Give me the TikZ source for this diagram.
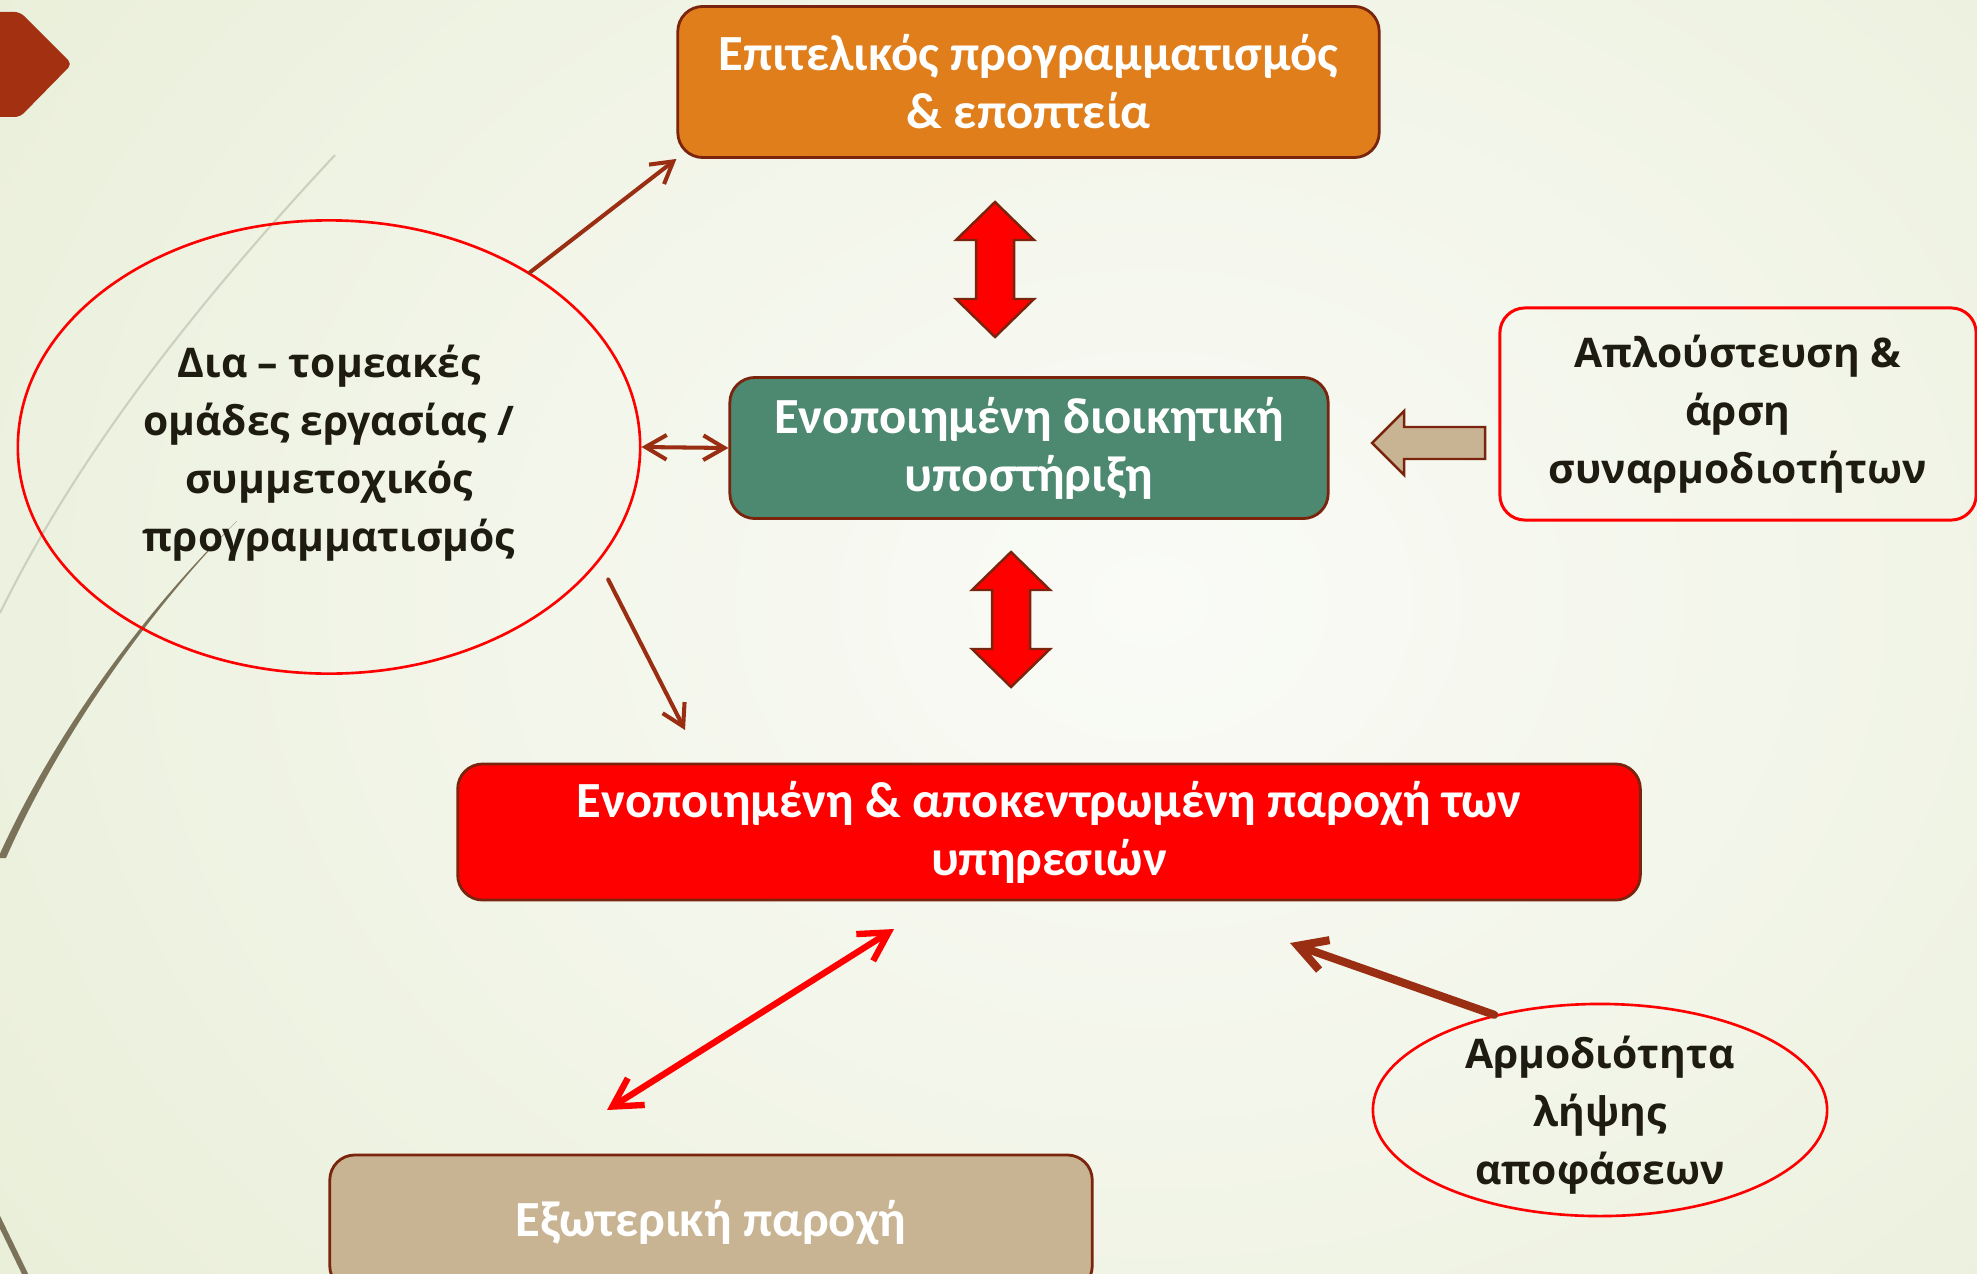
\documentclass[tikz,border=0pt]{standalone}
\usepackage{fontspec}
\setmainfont{Carlito}
\newfontfamily\darkfont{Open Sans}
\usetikzlibrary{arrows.meta, positioning, shapes.geometric}
\definecolor{PlanOrange}{RGB}{223,126,27}
\definecolor{SupportGreen}{RGB}{77,136,112}
\definecolor{ServiceRed}{RGB}{255,0,0}
\definecolor{ExternalTan}{RGB}{200,180,147}
\definecolor{EdgeBrown}{RGB}{122,36,14}
\definecolor{ArrowBrown}{RGB}{154,46,18}
\definecolor{InkDark}{RGB}{30,27,16}
\definecolor{BgGreen}{RGB}{224,232,200}
\definecolor{BgLight}{RGB}{250,251,247}
\definecolor{MarkRed}{RGB}{163,48,16}
\definecolor{LineGrey}{RGB}{205,208,190}
\definecolor{LineOlive}{RGB}{122,115,90}

\begin{document}
\begin{tikzpicture}[x=0.01cm, y=-0.01cm]
    % --- Styles ---
    \tikzstyle{box}=[draw=EdgeBrown, line width=0.8pt, rounded corners=0.25cm, text=white, align=center, font={\bfseries\fontsize{14.4}{16.5}\selectfont}]
    \tikzstyle{oval}=[ellipse, draw=ServiceRed, line width=0.75pt, inner sep=0pt]
    \tikzstyle{ink}=[text=InkDark, align=center, font={\darkfont\bfseries\fontsize{11.6}{16.5}\selectfont}]
    \tikzstyle{thinlink}=[ArrowBrown, line width=1.15pt, line cap=round, -{Straight Barb[length=6pt, width=7pt]}]
    \tikzstyle{blockedge}=[draw=EdgeBrown, line width=0.7pt, line join=miter]

    % --- 0. Background ---
    \useasboundingbox (0,0) rectangle (1977,1273);
    \clip (0,0) rectangle (1977,1273);
    \shade[inner color=BgLight, outer color=BgGreen] (-1100,-1200) rectangle (3400,2400);
    \draw[LineGrey, line width=0.6pt] (335,155) .. controls (200,300) and (80,450) .. (0,613);
    \fill[LineOlive] (237,521) .. controls (160,595) and (60,720) .. (-2,858) -- (6,858) .. controls (66,722) and (162,597) .. (237,521) -- cycle;
    \draw[LineOlive, line width=1.6pt] (-5,1212) -- (28,1280);
    \fill[MarkRed, rounded corners=1.5pt] (-5,12) -- (20,12) -- (72,64) -- (20,117) -- (-5,117) -- cycle;

    % --- 1. Boxes ---
    \node[box, fill=PlanOrange, minimum width=7.01cm, minimum height=1.51cm] (plan) at (1028.5,82) {Επιτελικός προγραμματισμός\\\& εποπτεία};
    \node[box, fill=SupportGreen, minimum width=5.98cm, minimum height=1.41cm] (support) at (1029,448) {Ενοποιημένη διοικητική\\υποστήριξη};
    \node[box, fill=ServiceRed, minimum width=11.82cm, minimum height=1.36cm] (delivery) at (1049,832) {Ενοποιημένη \& αποκεντρωμένη παροχή των\\υπηρεσιών};
    \node[box, fill=ExternalTan, minimum width=7.62cm, minimum height=1.36cm] (external) at (711,1223) {Εξωτερική παροχή};
    \node[box, ink, draw=ServiceRed, line width=0.85pt, minimum width=4.76cm, minimum height=2.12cm] (simplify) at (1738,414) {Απλούστευση \&\\άρση\\συναρμοδιοτήτων};

    % --- 2. Ovals ---
    \node[oval, minimum width=6.22cm, minimum height=4.53cm] (teams) at (329,447) {};
    \node[ink] (teamstxt) at ([yshift=-0.06cm]teams.center) {Δια – τομεακές\\ομάδες εργασίας /\\συμμετοχικός\\προγραμματισμός};
    \node[oval, minimum width=4.54cm, minimum height=2.12cm] (authority) at (1600,1110) {};
    \node[ink] (authoritytxt) at ([yshift=-0.05cm]authority.center) {Αρμοδιότητα\\λήψης\\αποφάσεων};

    % --- 3. Block arrows ---
    \draw[blockedge, fill=ServiceRed] (995,202) -- ++(39,38) -- ++(-20,0) -- ++(0,59) -- ++(20,0) -- ++(-39,38) -- ++(-39,-38) -- ++(20,0) -- ++(0,-59) -- ++(-20,0) -- cycle;
    \draw[blockedge, fill=ServiceRed] (1011,552) -- ++(39,38) -- ++(-20,0) -- ++(0,59) -- ++(20,0) -- ++(-39,38) -- ++(-39,-38) -- ++(20,0) -- ++(0,-59) -- ++(-20,0) -- cycle;
    \draw[blockedge, fill=ExternalTan] (1372,443) -- ++(32,-32) -- ++(0,16) -- ++(81,0) -- ++(0,32) -- ++(-81,0) -- ++(0,16) -- cycle;

    % --- 4. Links ---
    \coordinate (deliverytop) at (685,730);
    \coordinate (linkup) at (894,929);
    \coordinate (linkdown) at (607,1110);
    \coordinate (authorityend) at (1290,943);
    \draw[thinlink] (teams.41) -- (plan.south west);
    \draw[thinlink, {Straight Barb[length=6pt, width=7pt]}-{Straight Barb[length=6pt, width=7pt]}] (teams.east) -- (support.west);
    \draw[thinlink, shorten <=0.2cm] (teams.-23.6) -- (deliverytop);
    \draw[ServiceRed, line width=1.8pt, {Straight Barb[length=8pt, width=9pt]}-{Straight Barb[length=8pt, width=9pt]}] (linkdown) -- (linkup);
    \draw[ArrowBrown, line width=2.3pt, line cap=round, -{Straight Barb[length=8pt, width=9pt]}] (authority.138) -- (authorityend);

\end{tikzpicture}
\end{document}
